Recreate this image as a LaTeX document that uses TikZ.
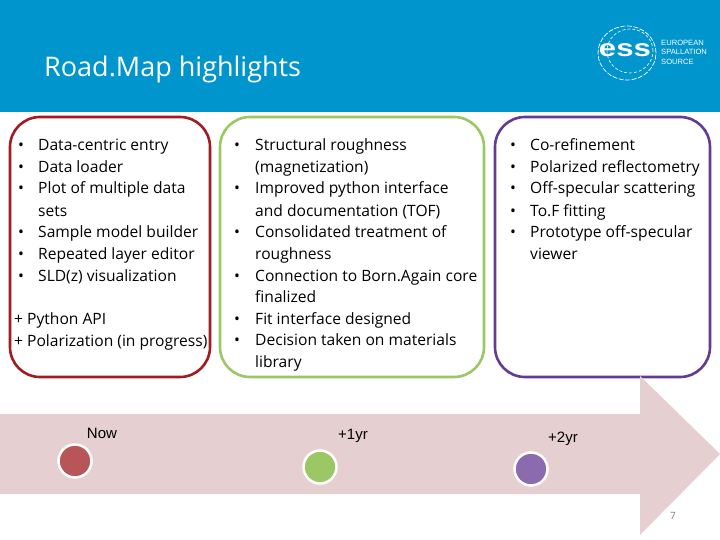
\documentclass[tikz,border=0pt]{standalone}
\usepackage{xcolor}
\usepackage{fontspec}
\setmainfont{Open Sans}
\newfontfamily\labelfont{Liberation Sans}
\definecolor{headercolor}{HTML}{0095CC}
\definecolor{nowcolor}{HTML}{A01C22}
\definecolor{oneyrcolor}{HTML}{9BC865}
\definecolor{twoyrcolor}{HTML}{653A92}
\definecolor{arrowcolor}{HTML}{E5CFD0}
\tikzset{
  panel/.style={draw, line width=2.6pt, rounded corners=30pt, fill=white},
  listline/.style={anchor=base west, inner sep=0pt, font=\fontsize{15.6}{18}\selectfont},
  milestone/.style={circle, draw=white, line width=2.5pt, minimum size=33pt, inner sep=0pt},
  whenlabel/.style={anchor=base, inner sep=0pt, font=\labelfont\fontsize{15}{17}\selectfont},
  logoline/.style={anchor=base west, inner sep=0pt, text=white, font=\labelfont\fontsize{7.6}{9}\selectfont},
}
\begin{document}
\begin{tikzpicture}[x=1pt, y=-1pt]
\useasboundingbox (0,0) rectangle (720,540);
\fill[white] (0,0) rectangle (720,540);
% header
\fill[headercolor] (0,0) rectangle (720,112);
\node[anchor=base west, inner sep=0pt, text=white, font=\fontsize{27}{32}\selectfont] (title) at (44,77) {Road.Map highlights};
% logo
\draw[white, line width=0.7pt, dash pattern=on 5pt off 1.5pt] (627,53) circle[x radius=29pt, y radius=27pt];
\draw[white, line width=0.6pt, dash pattern=on 3pt off 2pt] (630,51) circle[x radius=23pt, y radius=22pt];
\node[inner sep=0pt, text=white, xscale=1.3, font=\labelfont\bfseries\fontsize{24}{24}\selectfont] (esslogo) at (625,50) {ess};
\node[logoline] (logoa) at (661,46) {EUROPEAN};
\node[logoline] (logob) at (661,55) {SPALLATION};
\node[logoline] (logoc) at (661,65) {SOURCE};
% panels
\node[panel, draw=nowcolor, minimum width=200pt, minimum height=260pt] (nowpanel) at (110,247) {};
\node[panel, draw=oneyrcolor, minimum width=264pt, minimum height=260pt] (oneyrpanel) at (352,247) {};
\node[panel, draw=twoyrcolor, minimum width=215pt, minimum height=260pt] (twoyrpanel) at (602.5,247) {};
% text of the first panel
\foreach \y/\txt [count=\i] in {151/Data-centric entry, 173/Data loader, 194/Plot of multiple data, 216/sets, 237/Sample model builder, 259/Repeated layer editor, 281/SLD(z) visualization}
  \node[listline] (nowline\i) at (38,\y) {\txt};
\foreach \y [count=\i] in {151,173,194,237,259,281}
  \node[listline] (nowbullet\i) at (18,\y) {•};
\node[listline] (python) at (14,324) {+ Python API};
\node[listline] (polar) at (14,346) {+ Polarization (in progress)};
% text of the second panel
\foreach \y/\txt [count=\i] in {151/Structural roughness, 173/(magnetization), 194/Improved python interface, 216/and documentation (TOF), 237/Consolidated treatment of, 259/roughness, 281/Connection to Born.Again core, 302/finalized, 324/Fit interface designed, 345/Decision taken on materials, 367/library}
  \node[listline] (oneline\i) at (255,\y) {\txt};
\foreach \y [count=\i] in {151,194,237,281,324,345}
  \node[listline] (onebullet\i) at (234,\y) {•};
% text of the third panel
\foreach \y/\txt [count=\i] in {151/Co-refinement, 173/Polarized reflectometry, 194/Off-specular scattering, 216/To.F fitting, 237/Prototype off-specular, 259/viewer}
  \node[listline] (twoline\i) at (530,\y) {\txt};
\foreach \y [count=\i] in {151,173,194,216,237}
  \node[listline] (twobullet\i) at (510,\y) {•};
% time arrow
\fill[arrowcolor] (0,414) -- (640,414) -- (640,376) -- (720,454) -- (640,535) -- (640,494) -- (0,494) -- cycle;
\node[milestone, fill=nowcolor!75!white] (nowdot) at (75,461) {};
\node[milestone, fill=oneyrcolor] (oneyrdot) at (320,467) {};
\node[milestone, fill=twoyrcolor!75!white] (twoyrdot) at (531,469) {};
\node[whenlabel] (nowlabel) at (102,438) {Now};
\node[whenlabel] (oneyrlabel) at (353,439) {+1yr};
\node[whenlabel] (twoyrlabel) at (563,442) {+2yr};
\node[anchor=base, inner sep=0pt, text=gray, font=\fontsize{10}{12}\selectfont] (pagenum) at (673,519) {7};
\end{tikzpicture}
\end{document}
